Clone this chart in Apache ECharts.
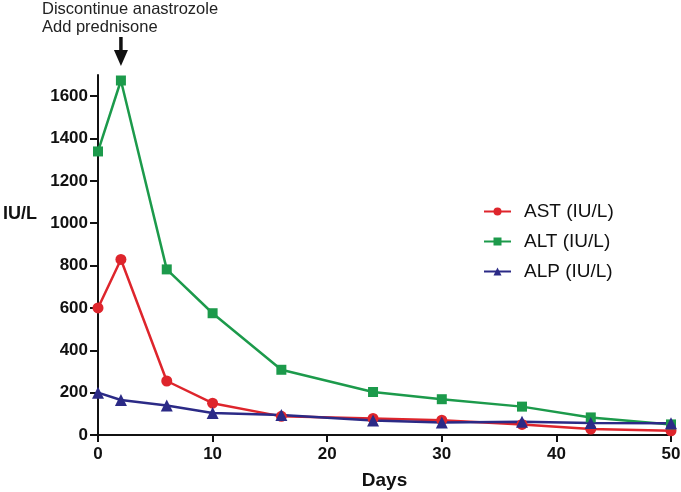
<!DOCTYPE html>
<html><head><meta charset="utf-8">
<script src="https://cdn.jsdelivr.net/npm/echarts@6/dist/echarts.min.js"></script>
<style>html,body{margin:0;padding:0;background:#fff}#c{width:681px;height:492px}</style>
</head><body><div id="c"></div>
<script>
const days = [0, 2, 6, 10, 16, 24, 30, 37, 43, 50];
const ast = [600, 829, 255, 150, 88, 78, 70, 50, 28, 20];
const alt = [1339, 1674, 782, 575, 308, 203, 169, 134, 83, 50];
const alp = [200, 165, 139, 104, 94, 69, 59, 63, 57, 55];
const yTicks = [0, 200, 400, 600, 800, 1000, 1200, 1400, 1600];
const xTicks = [0, 10, 20, 30, 40, 50];
const seriesNames = ['AST (IU/L)', 'ALT (IU/L)', 'ALP (IU/L)'];
const annotation = ['Discontinue anastrozole', 'Add prednisone'];
const annotationDay = 2;

const colors = ['#DE252C', '#1C9A4B', '#2B2A86'];
const pairs = v => days.map((d, i) => [d, v[i]]);
const chart = echarts.init(document.getElementById('c'), null, {renderer: 'canvas'});
const font = '"Liberation Sans", Arial, sans-serif';
function mk(name, data, symbol, size, color) {
  return {name, type: 'line', data: pairs(data), symbol, symbolSize: size,
    itemStyle: {color}, lineStyle: {color, width: 2.5}, clip: false, z: 3};
}
chart.setOption({
  animation: false,
  grid: {left: 98, right: 10, top: 75, bottom: 57, outerBoundsMode: 'none', containLabel: false},
  legend: {
    left: 483, top: 202, orient: 'vertical', padding: 0, itemGap: 11, itemWidth: 27, itemHeight: 10,
    textStyle: {fontFamily: font, fontSize: 19, color: '#111', padding: [0, 0, 0, 8]},
    data: seriesNames
  },
  xAxis: {
    type: 'value', min: 0, max: 50, interval: 10,
    name: 'Days', nameLocation: 'middle', nameGap: 36,
    nameTextStyle: {fontFamily: font, fontSize: 19, fontWeight: 'bold', color: '#111'},
    axisLine: {lineStyle: {color: '#111', width: 2}},
    axisTick: {length: 7, customValues: xTicks, lineStyle: {color: '#111', width: 2}},
    axisLabel: {fontFamily: font, fontSize: 17, fontWeight: 'bold', color: '#111', margin: 11, customValues: xTicks},
    splitLine: {show: false}
  },
  yAxis: {
    type: 'value', min: 0, max: 1700, interval: 200,
    axisLine: {show: true, lineStyle: {color: '#111', width: 2}},
    axisTick: {show: true, length: 8, customValues: yTicks, lineStyle: {color: '#111', width: 2}},
    axisLabel: {fontFamily: font, fontSize: 17, fontWeight: 'bold', color: '#111', margin: 10,
      customValues: yTicks, formatter: v => String(v)},
    splitLine: {show: false}
  },
  series: [
    mk(seriesNames[0], ast, 'circle', 11, colors[0]),
    mk(seriesNames[1], alt, 'rect', 10, colors[1]),
    mk(seriesNames[2], alp, 'triangle', 12, colors[2])
  ]
});
const ax = chart.convertToPixel({gridIndex: 0}, [annotationDay, 0])[0];
chart.setOption({
  graphic: [
    {type: 'text', left: 3, top: 205, style: {text: 'IU/L', font: 'bold 18px ' + font, fill: '#111'}},
    {type: 'text', left: 42, top: 0, style: {text: annotation.join('\n'), font: '16.5px ' + font, fill: '#222', lineHeight: 18}},
    {type: 'line', shape: {x1: ax, y1: 37, x2: ax, y2: 52}, style: {stroke: '#111', lineWidth: 3.5}},
    {type: 'polygon', shape: {points: [[ax - 7, 50], [ax + 7, 50], [ax, 66]]}, style: {fill: '#111'}}
  ]
});
</script></body></html>
